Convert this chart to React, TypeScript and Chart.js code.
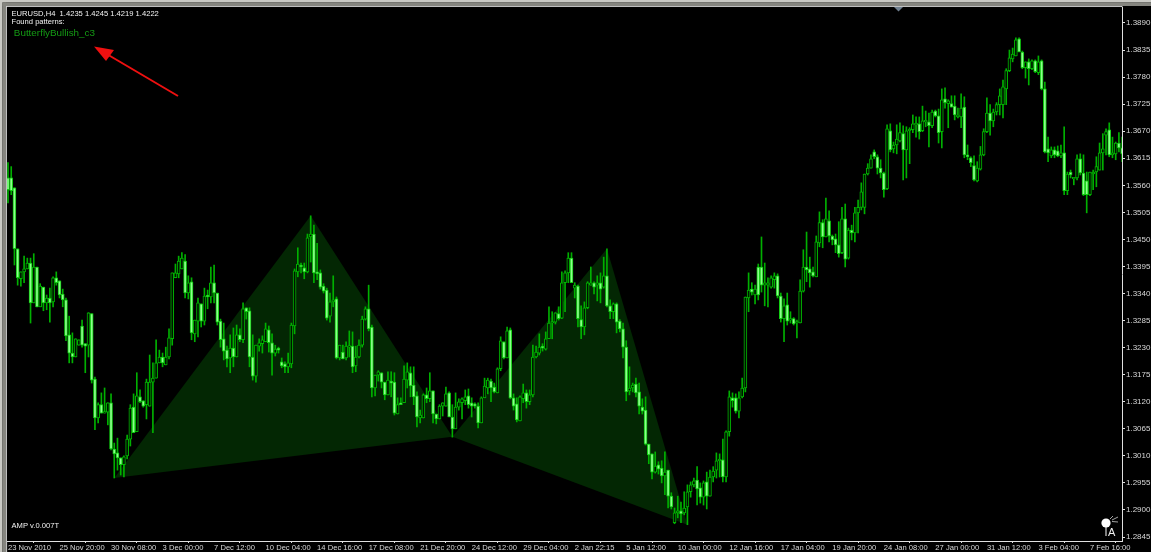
import React, { useEffect, useRef } from "react";
import { Chart, registerables } from "chart.js";

Chart.register(...registerables);

// Prices are quoted in 1/10000 (13606 = 1.3606). One row = ten 4-hour candles.
const highs = [
13606,13598,13555,13431,13384,13416,13412,13412,13421,13394,
13360,13353,13337,13351,13374,13384,13366,13349,13331,13294,
13260,13248,13246,13286,13238,13301,13299,13170,13118,13138,
13148,13118,13136,13036,13046,13006,13010,13052,13114,13136,
13179,13144,13122,13166,13215,13199,13246,13225,13219,13231,
13268,13382,13400,13416,13423,13419,13376,13372,13286,13331,
13319,13351,13347,13394,13398,13341,13288,13280,13233,13256,
13270,13276,13268,13321,13311,13311,13256,13235,13248,13254,
13280,13274,13258,13235,13231,13209,13201,13219,13280,13390,
13433,13402,13402,13461,13498,13479,13442,13388,13360,13351,
13341,13376,13333,13235,13235,13242,13264,13262,13233,13246,
13294,13313,13357,13276,13174,13183,13179,13160,13181,13181,
13179,13128,13128,13193,13199,13191,13191,13140,13103,13136,
13148,13179,13142,13095,13114,13118,13150,13140,13114,13138,
13126,13128,13144,13146,13128,13118,13118,13130,13168,13168,
13166,13158,13189,13252,13242,13272,13270,13136,13128,13132,
13156,13144,13144,13235,13233,13258,13238,13262,13313,13303,
13301,13313,13384,13386,13423,13423,13362,13357,13315,13323,
13364,13394,13364,13376,13382,13414,13431,13327,13321,13321,
13287,13280,13244,13191,13158,13168,13158,13126,13130,13034,
13014,13018,12998,13000,13018,12981,12935,12904,12928,12916,
12937,12951,12957,12965,12988,12955,12959,12977,12981,12988,
13016,13014,13044,13061,13142,13138,13136,13140,13168,13333,
13382,13362,13357,13400,13455,13402,13372,13376,13382,13380,
13341,13329,13341,13303,13291,13286,13368,13429,13465,13414,
13394,13457,13506,13490,13534,13508,13459,13461,13486,13515,
13522,13473,13479,13515,13530,13565,13583,13604,13622,13632,
13622,13612,13587,13683,13685,13648,13683,13687,13681,13679,
13677,13703,13699,13699,13721,13711,13707,13713,13713,13715,
13756,13758,13734,13742,13742,13717,13746,13740,13642,13618,
13620,13608,13639,13675,13738,13724,13715,13728,13756,13774,
13797,13835,13839,13860,13860,13833,13811,13817,13815,13815,
13823,13815,13770,13658,13638,13638,13640,13642,13679,13587,
13591,13575,13622,13624,13622,13587,13587,13591,13618,13646,
13665,13675,13687,13658,13648,13667,13658,
];

const lows = [
13524,13541,13398,13357,13355,13362,13390,13280,13321,13313,
13313,13305,13307,13282,13313,13357,13331,13313,13244,13199,
13199,13211,13235,13231,13179,13211,13158,13063,13077,13097,
13097,13073,13022,12965,12981,12971,12967,13004,13030,13057,
13059,13118,13109,13085,13111,13057,13168,13199,13191,13195,
13207,13235,13372,13372,13390,13331,13329,13246,13242,13252,
13272,13276,13309,13321,13321,13276,13231,13205,13191,13179,
13191,13211,13242,13240,13288,13191,13164,13160,13223,13219,
13242,13221,13174,13213,13219,13189,13179,13179,13189,13258,
13374,13382,13370,13382,13404,13362,13368,13349,13341,13286,
13282,13313,13207,13205,13207,13205,13211,13179,13181,13209,
13231,13286,13264,13130,13132,13162,13148,13124,13134,13130,
13093,13095,13114,13118,13148,13130,13114,13069,13077,13087,
13118,13120,13077,13075,13085,13091,13111,13089,13048,13065,
13103,13085,13114,13107,13089,13107,13067,13077,13128,13136,
13120,13138,13138,13183,13207,13209,13126,13103,13079,13081,
13118,13107,13114,13130,13209,13215,13223,13225,13248,13248,
13278,13286,13289,13303,13362,13362,13331,13272,13248,13256,
13309,13357,13339,13325,13321,13351,13313,13289,13289,13260,
13262,13209,13122,13134,13140,13130,13095,13095,13032,12994,
12963,12975,12973,12955,12931,12904,12902,12872,12884,12874,
12890,12870,12926,12947,12910,12914,12910,12902,12928,12957,
12965,12967,12957,12957,13050,13109,13097,13087,13128,13140,
13303,13337,13319,13327,13343,13315,13313,13351,13351,13331,
13282,13242,13276,13280,13276,13250,13280,13343,13364,13353,
13374,13374,13435,13433,13455,13445,13439,13423,13414,13421,
13394,13410,13449,13445,13463,13510,13502,13581,13595,13614,
13583,13575,13536,13551,13628,13626,13624,13648,13571,13575,
13604,13667,13658,13654,13669,13679,13638,13677,13699,13646,
13636,13717,13677,13719,13693,13697,13677,13616,13612,13598,
13569,13567,13591,13620,13667,13662,13679,13703,13703,13697,
13724,13791,13811,13823,13831,13797,13778,13764,13795,13789,
13785,13754,13626,13608,13616,13616,13618,13616,13541,13541,
13575,13561,13571,13581,13539,13504,13539,13551,13557,13591,
13591,13622,13618,13616,13612,13628,13608,
];

const opens = [
13575,13575,13555,13431,13370,13384,13390,13402,13321,13394,
13313,13353,13321,13331,13323,13372,13366,13339,13327,13256,
13219,13211,13235,13274,13238,13235,13299,13166,13087,13114,
13097,13099,13118,13024,13016,13006,12992,13010,13044,13109,
13059,13130,13122,13114,13111,13160,13168,13199,13211,13195,
13211,13248,13372,13380,13390,13406,13341,13364,13258,13284,
13319,13284,13337,13333,13362,13341,13284,13248,13225,13209,
13229,13211,13256,13246,13311,13305,13211,13172,13233,13238,
13242,13266,13240,13219,13229,13201,13197,13191,13197,13274,
13384,13398,13392,13384,13455,13461,13384,13382,13355,13347,
13294,13323,13329,13209,13221,13209,13231,13233,13193,13211,
13235,13288,13309,13272,13148,13174,13179,13160,13134,13162,
13160,13095,13118,13118,13164,13179,13154,13132,13087,13087,
13134,13126,13142,13095,13085,13111,13111,13138,13089,13065,
13109,13118,13122,13132,13118,13116,13111,13077,13128,13148,
13162,13150,13138,13187,13242,13209,13266,13128,13116,13081,
13126,13138,13120,13134,13211,13219,13233,13227,13248,13280,
13282,13299,13290,13362,13382,13412,13351,13355,13287,13272,
13311,13357,13362,13357,13362,13353,13376,13315,13303,13319,
13284,13268,13231,13142,13148,13156,13140,13109,13103,13034,
13014,12977,12992,12985,12969,12981,12928,12874,12894,12898,
12894,12906,12937,12951,12961,12945,12926,12957,12928,12967,
12981,13000,13002,12967,13059,13128,13128,13101,13130,13148,
13331,13349,13337,13394,13394,13357,13357,13353,13368,13376,
13335,13289,13317,13286,13289,13280,13280,13345,13394,13390,
13384,13374,13443,13484,13455,13488,13457,13451,13439,13423,
13492,13412,13469,13463,13504,13515,13515,13583,13595,13628,
13618,13595,13585,13553,13671,13634,13642,13650,13665,13632,
13671,13673,13683,13685,13671,13689,13689,13681,13711,13701,
13669,13736,13726,13726,13721,13699,13699,13719,13622,13616,
13600,13569,13593,13622,13669,13707,13691,13709,13724,13724,
13756,13793,13817,13823,13858,13831,13799,13811,13797,13813,
13789,13813,13756,13634,13620,13632,13630,13620,13626,13549,
13587,13573,13575,13614,13585,13569,13541,13583,13587,13591,
13626,13662,13673,13622,13624,13646,13636,
];

const closes = [
13551,13549,13431,13372,13384,13390,13402,13321,13394,13313,
13355,13321,13331,13321,13372,13362,13337,13327,13254,13219,
13211,13248,13246,13235,13233,13301,13164,13087,13114,13097,
13099,13118,13024,13014,13006,12992,13008,13044,13107,13057,
13132,13120,13111,13160,13160,13168,13199,13211,13199,13211,
13250,13382,13382,13406,13412,13341,13362,13260,13286,13321,
13284,13335,13333,13362,13341,13282,13246,13223,13207,13229,
13211,13256,13246,13309,13303,13211,13172,13235,13240,13246,
13268,13240,13219,13227,13225,13193,13191,13199,13276,13386,
13400,13394,13384,13453,13461,13382,13380,13353,13345,13290,
13323,13327,13209,13235,13207,13233,13233,13191,13211,13235,
13288,13309,13268,13148,13174,13181,13160,13134,13164,13158,
13097,13114,13114,13166,13181,13152,13130,13089,13093,13134,
13126,13142,13095,13085,13111,13118,13136,13089,13065,13109,
13120,13126,13130,13114,13111,13111,13077,13128,13152,13164,
13148,13140,13187,13244,13209,13264,13128,13111,13083,13130,
13138,13120,13134,13211,13221,13231,13229,13248,13280,13282,
13301,13289,13362,13382,13412,13362,13357,13289,13272,13311,
13362,13362,13353,13362,13349,13376,13315,13303,13319,13282,
13268,13231,13140,13148,13154,13138,13111,13101,13034,13012,
12977,12989,12983,12969,12977,12928,12906,12894,12898,12892,
12904,12937,12951,12959,12943,12926,12955,12928,12967,12979,
13000,13002,12967,13059,13130,13122,13101,13128,13148,13333,
13347,13343,13349,13337,13357,13362,13362,13372,13376,13335,
13289,13315,13284,13289,13278,13282,13345,13394,13388,13382,
13376,13445,13484,13455,13492,13457,13449,13439,13421,13492,
13410,13469,13463,13504,13515,13547,13583,13595,13614,13618,
13595,13585,13551,13675,13632,13642,13654,13667,13632,13671,
13673,13685,13685,13669,13691,13691,13681,13709,13701,13667,
13734,13728,13732,13719,13703,13703,13717,13622,13618,13606,
13571,13595,13622,13669,13707,13691,13709,13724,13742,13760,
13793,13819,13827,13856,13831,13799,13811,13797,13813,13791,
13811,13756,13628,13626,13632,13622,13620,13626,13549,13583,
13581,13575,13614,13585,13541,13541,13587,13587,13598,13626,
13634,13669,13622,13626,13646,13636,13624,
];

const timeLabels = [
  "23 Nov 2010","25 Nov 20:00","30 Nov 08:00","3 Dec 00:00","7 Dec 12:00","10 Dec 04:00",
  "14 Dec 16:00","17 Dec 08:00","21 Dec 20:00","24 Dec 12:00","29 Dec 04:00","2 Jan 22:15",
  "5 Jan 12:00","10 Jan 00:00","12 Jan 16:00","17 Jan 04:00","19 Jan 20:00","24 Jan 08:00",
  "27 Jan 00:00","31 Jan 12:00","3 Feb 04:00","7 Feb 16:00",
];
const priceTicks = [
  1.389,1.3835,1.378,1.3725,1.367,1.3615,1.356,1.3505,1.345,1.3395,
  1.334,1.3285,1.323,1.3175,1.312,1.3065,1.301,1.2955,1.29,1.2845,
];

// Butterfly harmonic pattern pivots: candle index and price.
const wingOneUpper = [{ x: 33, y: 1.2965 }, { x: 94, y: 1.3498 }, { x: 138, y: 1.3049 }];
const wingOneLower = [{ x: 33, y: 1.2965 }, { x: 138, y: 1.3049 }];
const wingTwoUpper = [{ x: 138, y: 1.3049 }, { x: 186, y: 1.3431 }, { x: 211, y: 1.287 }];
const wingTwoLower = [{ x: 138, y: 1.3049 }, { x: 211, y: 1.287 }];

const toPrice = (v: number) => v / 10000;
const BARS_PER_LABEL = 16;

const frame = {
  id: "frame",
  beforeDraw(chart: any) {
    const { ctx, chartArea: a, width, height } = chart;
    ctx.save();
    ctx.fillStyle = "#000";
    ctx.fillRect(0, 0, width, height);
    ctx.fillStyle = "#c9c9c4";
    ctx.fillRect(0, 0, width, 2.5);
    ctx.fillRect(0, 0, 2.5, height);
    ctx.fillStyle = "#85857f";
    ctx.fillRect(2.5, 2.5, width, 3.5);
    ctx.fillRect(2.5, 2.5, 3.5, height);
    ctx.fillStyle = "#eeeeee";
    ctx.fillRect(6.2, 6.2, 0.9, height);
    ctx.fillRect(6.2, 6.2, a.right - 6.2, 0.9);
    ctx.fillRect(a.right - 0.5, 6.2, 1, 2);
    ctx.fillStyle = "#000";
    ctx.fillRect(a.left, a.top + 0.1, a.width, a.height);
    ctx.restore();
  },
};

const overlay = {
  id: "overlay",
  afterDraw(chart: any) {
    const { ctx } = chart;
    ctx.save();
    ctx.textBaseline = "middle";
    ctx.textAlign = "left";
    ctx.font = "7.6px 'Liberation Sans'";
    ctx.fillStyle = "#f2f2f2";
    ctx.fillText("EURUSD,H4  1.4235 1.4245 1.4219 1.4222", 11.5, 14);
    ctx.fillText("Found patterns:", 11.5, 21.5);
    ctx.fillText("AMP v.0.007T", 11.5, 525.5);
    ctx.font = "9.9px 'Liberation Sans'";
    ctx.fillStyle = "#149a14";
    ctx.fillText("ButterflyBullish_c3", 13.8, 33.7);

    // red annotation arrow
    ctx.strokeStyle = "#ee1010";
    ctx.fillStyle = "#ee1010";
    ctx.lineWidth = 2;
    ctx.beginPath();
    ctx.moveTo(178, 96);
    ctx.lineTo(105, 53);
    ctx.stroke();
    ctx.beginPath();
    ctx.moveTo(94, 46.5);
    ctx.lineTo(114, 50);
    ctx.lineTo(106, 61);
    ctx.closePath();
    ctx.fill();

    // chart-shift marker
    ctx.fillStyle = "#6f7f8f";
    ctx.beginPath();
    ctx.moveTo(894, 7);
    ctx.lineTo(903, 7);
    ctx.lineTo(898.5, 11.5);
    ctx.closePath();
    ctx.fill();

    // corner badge
    ctx.fillStyle = "#fff";
    ctx.beginPath();
    ctx.arc(1106, 523, 4.6, 0, Math.PI * 2);
    ctx.fill();
    ctx.fillRect(1105.5, 526, 1, 10);
    ctx.strokeStyle = "#cfcfcf";
    ctx.lineWidth = 0.8;
    ctx.beginPath();
    ctx.moveTo(1110, 519);
    ctx.lineTo(1113, 516);
    ctx.moveTo(1112, 520);
    ctx.lineTo(1118, 517);
    ctx.moveTo(1112, 521.5);
    ctx.lineTo(1118, 522);
    ctx.stroke();
    ctx.font = "11px 'Liberation Sans'";
    ctx.fillStyle = "#f0f0f0";
    ctx.fillText("A", 1108, 532.5);
    ctx.restore();
  },
};

export default function App() {
  const ref = useRef<HTMLCanvasElement | null>(null);
  useEffect(() => {
    const n = highs.length;
    const idx = Array.from({ length: n }, (_, i) => i);
    const isUp = idx.map((i) => closes[i] >= opens[i]);
    const wing = (label: string, data: any[], fill: any) => ({
      type: "line" as const,
      label,
      data,
      order: 5,
      borderWidth: 0,
      borderColor: "transparent",
      pointRadius: 0,
      tension: 0,
      fill,
      backgroundColor: "#032703",
    });
    const chart = new Chart(ref.current!, {
      type: "bar",
      plugins: [frame, overlay],
      data: {
        datasets: [
          wing("XAB", wingOneUpper, "+1"),
          wing("XB", wingOneLower, false),
          wing("BCD", wingTwoUpper, "+1"),
          wing("BD", wingTwoLower, false),
          {
            label: "wick",
            data: idx.map((i) => ({ x: i, y: [toPrice(lows[i]), toPrice(highs[i])] })),
            backgroundColor: "#00b000",
            barThickness: 1,
            grouped: false,
            order: 2,
          },
          {
            label: "body",
            data: idx.map((i) => ({
              x: i,
              y: [toPrice(Math.min(opens[i], closes[i])), toPrice(Math.max(opens[i], closes[i]))],
            })),
            backgroundColor: idx.map((i) => (isUp[i] ? "#001200" : "#8cff8c")),
            borderColor: idx.map((i) => (isUp[i] ? "#00b400" : "#10cc10")),
            borderWidth: 1,
            borderSkipped: false,
            barThickness: 3,
            minBarLength: 1.5,
            grouped: false,
            order: 1,
          },
        ] as any,
      },
      options: {
        responsive: false,
        animation: false,
        devicePixelRatio: 1,
        layout: { padding: { left: 7, top: 7, right: 0, bottom: 0 } },
        plugins: { legend: { display: false }, tooltip: { enabled: false } },
        scales: {
          x: {
            type: "linear",
            min: -0.31,
            max: 345.96,
            offset: false,
            afterFit(s: any) {
              s.height = 11;
            },
            afterBuildTicks(s: any) {
              s.ticks = timeLabels.map((_, k) => ({ value: k * BARS_PER_LABEL }));
            },
            grid: { drawOnChartArea: false, drawTicks: true, tickLength: 2, color: "#e0e0e0" },
            border: { color: "#e0e0e0", width: 1 },
            ticks: {
              autoSkip: false,
              maxRotation: 0,
              minRotation: 0,
              align: "start",
              padding: 0,
              color: "#d8d8d8",
              font: { family: "'Liberation Sans'", size: 7.6 },
              callback: (v: any) => timeLabels[Math.round(Number(v) / BARS_PER_LABEL)],
            },
          },
          y: {
            position: "right",
            min: 1.28369,
            max: 1.39225,
            afterFit(s: any) {
              s.width = 29;
            },
            afterBuildTicks(s: any) {
              s.ticks = priceTicks.map((value) => ({ value }));
            },
            grid: { drawOnChartArea: false, tickLength: 3, color: "#e0e0e0" },
            border: { color: "#e0e0e0", width: 1 },
            ticks: {
              autoSkip: false,
              padding: 1,
              color: "#d8d8d8",
              font: { family: "'Liberation Sans'", size: 8 },
              callback: (v: any) => Number(v).toFixed(4),
            },
          },
        },
      } as any,
    });
    return () => chart.destroy();
  }, []);
  return (
    <div style={{ position: "fixed", left: 0, top: 0, width: 1151, height: 552, background: "#000" }}>
      <canvas ref={ref} width={1151} height={552} style={{ display: "block" }} />
    </div>
  );
}
